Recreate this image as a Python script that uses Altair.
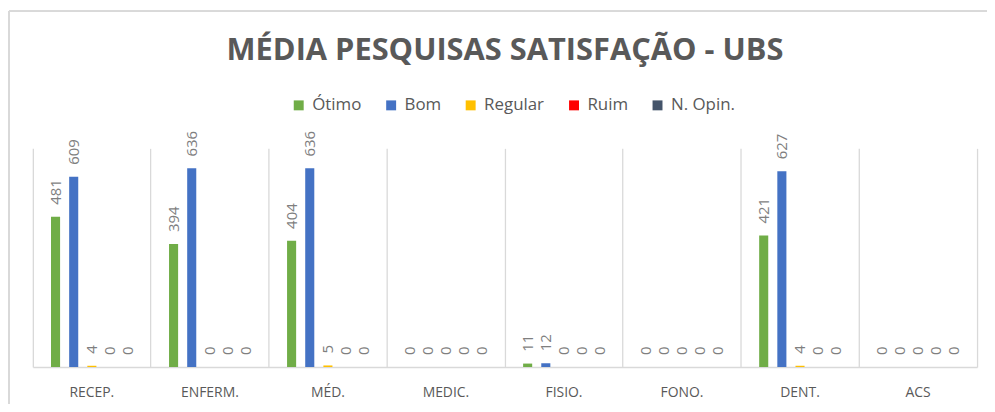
import altair as alt
import pandas as pd

categories = ["RECEP.", "ENFERM.", "MÉD.", "MEDIC.", "FISIO.", "FONO.", "DENT.", "ACS"]
series = ["Ótimo", "Bom", "Regular", "Ruim", "N. Opin."]
otimo = [481, 394, 404, 0, 11, 0, 421, 0]
bom = [609, 636, 636, 0, 12, 0, 627, 0]
regular = [4, 0, 5, 0, 0, 0, 4, 0]
ruim = [0, 0, 0, 0, 0, 0, 0, 0]
nopin = [0, 0, 0, 0, 0, 0, 0, 0]
colors = ["#70AD47", "#4472C4", "#FFC000", "#FF0000", "#44546A"]

rows = []
for s, vals in zip(series, [otimo, bom, regular, ruim, nopin]):
    for c, v in zip(categories, vals):
        rows.append({"cat": c, "serie": s, "valor": v})
df = pd.DataFrame(rows)

FONT = "Open Sans"
W, H = 950, 220

x = alt.X("cat:N", sort=categories, title=None,
          scale=alt.Scale(paddingInner=0, paddingOuter=0),
          axis=alt.Axis(bandPosition=0, grid=True, gridColor="#d9d9d9", gridWidth=1.3,
                        domainColor="#d9d9d9", domainWidth=1.3, ticks=False,
                        labelAngle=0, labelFont=FONT, labelFontSize=14, labelColor="#595959",
                        labelPadding=19, labelAlign="center"))
xo = alt.XOffset("serie:N", sort=series,
                 scale=alt.Scale(paddingInner=0.5, paddingOuter=1.0))
y = alt.Y("valor:Q", scale=alt.Scale(domain=[0, 700]), title=None,
          axis=alt.Axis(orient="right", labels=False, ticks=False, grid=False,
                        domain=True, domainColor="#d9d9d9", domainWidth=1.3))
color = alt.Color("serie:N", sort=series,
                  scale=alt.Scale(domain=series, range=colors),
                  legend=alt.Legend(title=None, orient="none", direction="horizontal",
                                    legendX=259, legendY=-52,
                                    symbolType="square", symbolSize=100, symbolStrokeWidth=0,
                                    labelFont=FONT, labelFontSize=17, labelColor="#595959",
                                    columnPadding=21, labelOffset=5))

bars = alt.Chart(df).mark_bar().encode(x=x, xOffset=xo, y=y, color=color)
labels = alt.Chart(df).mark_text(angle=270, align="left", baseline="middle", dx=12,
                                 font=FONT, fontSize=15, color="#7f7f7f").encode(
    x=x, xOffset=xo, y=y, text=alt.Text("valor:Q"))

# chart-area border (top and left edges visible in the reference)
border_top = alt.Chart(df).mark_rule(color="#d9d9d9", strokeWidth=1.5).encode(
    x=alt.value(-24), x2=alt.value(W + 20), y=alt.value(-138))
border_left = alt.Chart(df).mark_rule(color="#d9d9d9", strokeWidth=1.5).encode(
    x=alt.value(-24), y=alt.value(-138), y2=alt.value(H + 50))

chart = alt.layer(border_top, border_left, bars, labels).properties(
    width=W, height=H,
    autosize=alt.AutoSizeParams(type="none"),
    padding={"left": 25, "top": 140, "right": 10, "bottom": 36},
    title=alt.TitleParams("MÉDIA PESQUISAS SATISFAÇÃO - UBS", font=FONT, fontSize=31,
                          fontWeight="bold", color="#595959", anchor="middle",
                          offset=-57),
).configure_view(stroke=None)

chart.save("out.html", embed_options={"renderer": "svg", "actions": False})
